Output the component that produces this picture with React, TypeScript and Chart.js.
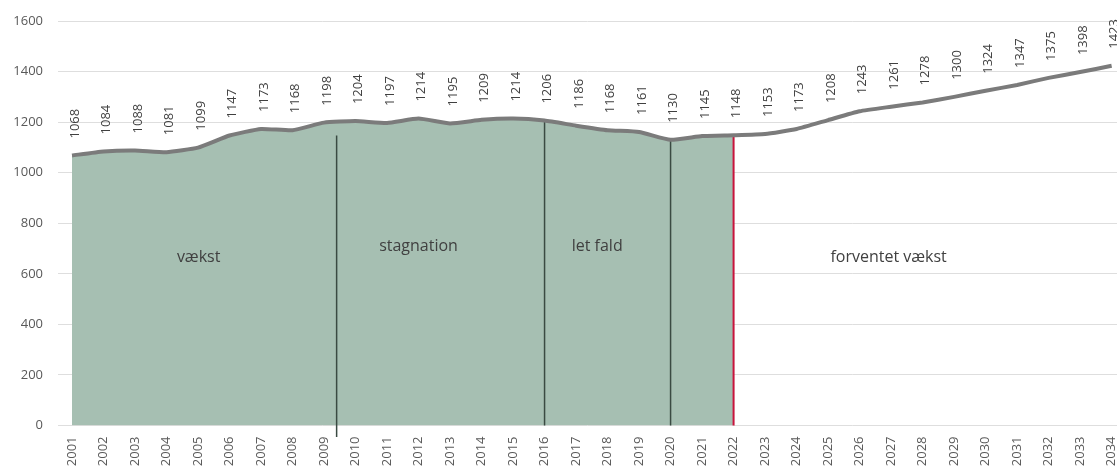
import React, { useEffect, useRef } from "react";
import { Chart, registerables } from "chart.js";

Chart.register(...registerables);

const years = [
  2001, 2002, 2003, 2004, 2005, 2006, 2007, 2008, 2009, 2010, 2011, 2012,
  2013, 2014, 2015, 2016, 2017, 2018, 2019, 2020, 2021, 2022, 2023, 2024,
  2025, 2026, 2027, 2028, 2029, 2030, 2031, 2032, 2033, 2034,
];

const historical = [
  1068, 1084, 1088, 1081, 1099, 1147, 1173, 1168, 1198, 1204, 1197, 1214,
  1195, 1209, 1214, 1206, 1186, 1168, 1161, 1130, 1145, 1148,
];

const forecast = [1153, 1173, 1208, 1243, 1261, 1278, 1300, 1324, 1347, 1375, 1398, 1423];

const yTicks = [0, 200, 400, 600, 800, 1000, 1200, 1400, 1600];

const phaseNames = ["vækst", "stagnation", "let fald", "forventet vækst"];
const phaseYears = [2005.02, 2012.0, 2017.67, 2026.92];
const phaseValues = [663, 709, 710, 665];

const dividerYears = [2009.4, 2016, 2020, 2022];
const dividerTops = [1147, 1206, 1130, 1148];
const dividerBottoms = [-45, 0, 0, 0];

const allValues = [...historical, ...forecast];

export default function App() {
  const ref = useRef<HTMLCanvasElement | null>(null);

  useEffect(() => {
    if (!ref.current) return;

    const overlay = {
      id: "overlay",
      afterDatasetDraw(chart: any, args: any) {
        if (args.index !== 1) return;
        const { ctx } = chart;
        const x = chart.scales.x;
        const y = chart.scales.y;
        ctx.save();
        dividerYears.forEach((yr, i) => {
          const last = i === dividerYears.length - 1;
          ctx.beginPath();
          ctx.strokeStyle = last ? "#c8143c" : "#3a4a42";
          ctx.lineWidth = last ? 2 : 1.5;
          const px = x.getPixelForValue(yr);
          ctx.moveTo(px, y.getPixelForValue(dividerTops[i]));
          ctx.lineTo(px, y.getPixelForValue(dividerBottoms[i]));
          ctx.stroke();
        });
        ctx.font = '16px "Open Sans"';
        ctx.fillStyle = "#404040";
        ctx.textAlign = "center";
        ctx.textBaseline = "middle";
        phaseNames.forEach((name, i) => {
          ctx.fillText(name, x.getPixelForValue(phaseYears[i]), y.getPixelForValue(phaseValues[i]));
        });
        ctx.restore();
      },
      afterDatasetsDraw(chart: any) {
        const { ctx } = chart;
        const meta = chart.getDatasetMeta(0);
        ctx.save();
        ctx.font = '13px "Open Sans"';
        ctx.fillStyle = "#404040";
        ctx.textAlign = "left";
        ctx.textBaseline = "middle";
        meta.data.forEach((pt: any, i: number) => {
          ctx.save();
          ctx.translate(pt.x + 3, pt.y - 17);
          ctx.rotate(-Math.PI / 2);
          ctx.fillText(String(allValues[i]), 0, 0);
          ctx.restore();
        });
        ctx.restore();
      },
    };

    const chart = new Chart(ref.current, {
      type: "line",
      data: {
        datasets: [
          {
            data: years.map((yr, i) => ({ x: yr, y: allValues[i] })),
            borderColor: "#7b7b7b",
            borderWidth: 4,
            pointRadius: 0,
            tension: 0.15,
            fill: false,
          },
          {
            data: historical.map((v, i) => ({ x: years[i], y: v })),
            borderWidth: 0,
            borderColor: "rgba(0,0,0,0)",
            backgroundColor: "#a6bfb2",
            pointRadius: 0,
            tension: 0.15,
            fill: "origin",
          },
        ],
      },
      options: {
        responsive: false,
        animation: false,
        layout: { padding: { top: 21, left: 0, right: 0, bottom: 0 } },
        plugins: { legend: { display: false }, tooltip: { enabled: false } },
        scales: {
          x: {
            type: "linear",
            min: 2000.556,
            max: 2034.17,
            grid: { display: false, drawTicks: false },
            border: { display: false },
            afterBuildTicks: (scale: any) => {
              scale.ticks = years.map((v) => ({ value: v }));
            },
            afterFit: (scale: any) => {
              scale.height = 42.5;
              scale.paddingLeft = 0;
              scale.paddingRight = 0;
            },
            ticks: {
              autoSkip: false,
              maxRotation: 90,
              minRotation: 90,
              padding: 11,
              color: "#595959",
              font: { family: "Open Sans", size: 13 },
              callback: (v: any) => String(v),
            },
          },
          y: {
            min: 0,
            max: 1600,
            grid: { color: "#dedede", drawTicks: false, lineWidth: 1 },
            border: { display: false },
            afterBuildTicks: (scale: any) => {
              scale.ticks = yTicks.map((v) => ({ value: v }));
            },
            afterFit: (scale: any) => {
              scale.width = 58;
              scale.paddingTop = 0;
              scale.paddingBottom = 0;
            },
            ticks: {
              padding: 15,
              color: "#595959",
              font: { family: "Open Sans", size: 13 },
              callback: (v: any) => String(v),
            },
          },
        },
      },
      plugins: [overlay],
    });

    return () => chart.destroy();
  }, []);

  return (
    <div style={{ position: "absolute", left: 0, top: 0, width: 1117, height: 468 }}>
      <canvas ref={ref} width={1117} height={468} style={{ display: "block" }} />
    </div>
  );
}
